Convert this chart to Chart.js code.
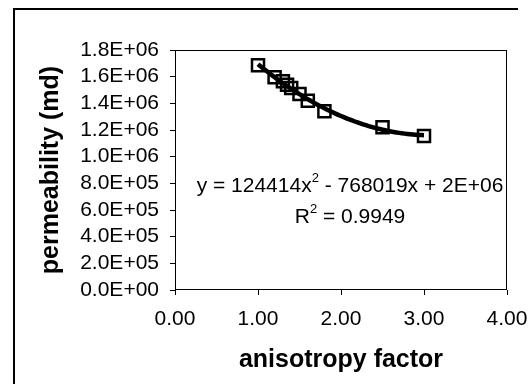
<!DOCTYPE html>
<html lang="en">
<head>
  <meta charset="UTF-8" />
  <title>Permeability vs anisotropy</title>
  <script src="https://cdn.jsdelivr.net/npm/chart.js"></script>
  <style>
    html, body { margin: 0; padding: 0; background: #fff; }
    #wrap { width: 531px; height: 384px; }
  </style>
</head>
<body>
  <div id="wrap"><canvas id="permChart" width="531" height="384"></canvas></div>

  <script>
    // measured points
    const anisotropy = [1.0, 1.2, 1.3, 1.35, 1.4, 1.5, 1.6, 1.8, 2.5, 3.0];
    const permeability = [1685000, 1595000, 1565000, 1540000, 1515000, 1470000, 1420000, 1340000, 1220000, 1155000];

    const xTicks = [0, 1, 2, 3, 4];
    const yTicks = [0, 200000, 400000, 600000, 800000, 1000000, 1200000, 1400000, 1600000, 1800000];

    const eqLine1 = ['y = 124414x', '2', ' - 768019x + 2E+06'];
    const eqLine2 = ['R', '2', ' = 0.9949'];

    // 2nd order least squares fit (Excel-style polynomial trendline)
    function polyFit2(xs, ys) {
      let s = [0, 0, 0, 0, 0], t = [0, 0, 0];
      xs.forEach((x, i) => {
        for (let k = 0; k < 5; k++) s[k] += Math.pow(x, k);
        for (let k = 0; k < 3; k++) t[k] += ys[i] * Math.pow(x, k);
      });
      const m = [[s[0], s[1], s[2], t[0]], [s[1], s[2], s[3], t[1]], [s[2], s[3], s[4], t[2]]];
      for (let i = 0; i < 3; i++) {
        for (let j = i + 1; j < 3; j++) {
          const f = m[j][i] / m[i][i];
          for (let k = i; k < 4; k++) m[j][k] -= f * m[i][k];
        }
      }
      const c = [0, 0, 0];
      for (let i = 2; i >= 0; i--) {
        let v = m[i][3];
        for (let k = i + 1; k < 3; k++) v -= m[i][k] * c[k];
        c[i] = v / m[i][i];
      }
      return c; // c0 + c1 x + c2 x^2
    }

    const coef = polyFit2(anisotropy, permeability);
    const xMin = Math.min(...anisotropy), xMax = Math.max(...anisotropy);
    const trend = [];
    for (let i = 0; i <= 60; i++) {
      const x = xMin + (xMax - xMin) * i / 60;
      trend.push({ x: x, y: coef[0] + coef[1] * x + coef[2] * x * x });
    }

    function sci(v) {
      const parts = v.toExponential(1).split('e');
      const n = parseInt(parts[1], 10);
      return parts[0] + 'E' + (n < 0 ? '-' : '+') + String(Math.abs(n)).padStart(2, '0');
    }

    function drawSup(ctx, parts, cx, cy, size) {
      const big = size + 'px "Liberation Sans", Arial, sans-serif';
      const small = Math.round(size * 0.62) + 'px "Liberation Sans", Arial, sans-serif';
      ctx.font = big;
      const w0 = ctx.measureText(parts[0]).width;
      const w2 = ctx.measureText(parts[2]).width;
      ctx.font = small;
      const w1 = ctx.measureText(parts[1]).width;
      let x = cx - (w0 + w1 + w2) / 2;
      ctx.textAlign = 'left';
      ctx.textBaseline = 'middle';
      ctx.font = big;
      ctx.fillText(parts[0], x, cy);
      x += w0;
      ctx.font = small;
      ctx.fillText(parts[1], x, cy - size * 0.38);
      x += w1;
      ctx.font = big;
      ctx.fillText(parts[2], x, cy);
    }

    const framePlugin = {
      id: 'frame',
      beforeDraw(chart) {
        const ctx = chart.ctx;
        ctx.save();
        ctx.fillStyle = '#fff';
        ctx.fillRect(0, 0, chart.width, chart.height);
        // outer chart border (top + left visible)
        ctx.strokeStyle = '#000';
        ctx.lineWidth = 2;
        ctx.beginPath();
        ctx.moveTo(14, chart.height);
        ctx.lineTo(14, 9);
        ctx.lineTo(518, 9);
        ctx.stroke();
        ctx.restore();
      },
      afterDraw(chart) {
        const ctx = chart.ctx;
        const a = chart.chartArea;
        ctx.save();
        ctx.strokeStyle = '#000';
        ctx.lineWidth = 1;
        ctx.strokeRect(Math.round(a.left) + 0.5, Math.round(a.top) + 0.5,
          Math.round(a.right - a.left) - 1, Math.round(a.bottom - a.top) - 1);
        ctx.fillStyle = '#000';
        drawSup(ctx, eqLine1, 350, 186, 21);
        drawSup(ctx, eqLine2, 350, 217, 21);
        ctx.restore();
      }
    };

    const ctx = document.getElementById('permChart').getContext('2d');
    new Chart(ctx, {
      type: 'scatter',
      data: {
        datasets: [
          {
            label: 'trend',
            type: 'line',
            data: trend,
            borderColor: '#000',
            borderWidth: 4.5,
            pointRadius: 0,
            fill: false,
            order: 0
          },
          {
            label: 'permeability',
            data: anisotropy.map((x, i) => ({ x: x, y: permeability[i] })),
            pointStyle: 'rect',
            pointRadius: 8.5,
            pointHoverRadius: 8.5,
            borderColor: '#000',
            borderWidth: 2.5,
            backgroundColor: 'rgba(0,0,0,0)',
            order: 1
          }
        ]
      },
      options: {
        responsive: false,
        animation: false,
        events: [],
        layout: { padding: { left: 0, top: 50, right: 24, bottom: 0 } },
        plugins: {
          legend: { display: false },
          tooltip: { enabled: false }
        },
        scales: {
          x: {
            type: 'linear',
            min: xTicks[0],
            max: xTicks[xTicks.length - 1],
            afterFit: s => { s.height = 94; s.paddingRight = 0; s.paddingLeft = 0; },
            afterBuildTicks: s => { s.ticks = xTicks.map(v => ({ value: v })); },
            border: { display: false },
            grid: { drawOnChartArea: false, drawTicks: true, tickLength: 5, color: '#000' },
            ticks: {
              color: '#000',
              padding: 12,
              maxRotation: 0,
              autoSkip: false,
              font: { family: '"Liberation Sans", Arial, sans-serif', size: 21 },
              callback: v => Number(v).toFixed(2)
            },
            title: {
              display: true,
              text: 'anisotropy factor',
              color: '#000',
              padding: { top: 0, bottom: 9 },
              font: { family: '"Liberation Sans", Arial, sans-serif', size: 25, weight: 'bold' }
            }
          },
          y: {
            min: yTicks[0],
            max: yTicks[yTicks.length - 1],
            afterFit: s => { s.width = 175; s.paddingTop = 0; s.paddingBottom = 0; },
            afterBuildTicks: s => { s.ticks = yTicks.map(v => ({ value: v })); },
            border: { display: false },
            grid: { drawOnChartArea: false, drawTicks: true, tickLength: 5, color: '#000' },
            ticks: {
              color: '#000',
              padding: 11,
              autoSkip: false,
              font: { family: '"Liberation Sans", Arial, sans-serif', size: 21 },
              callback: v => sci(v)
            },
            title: {
              display: true,
              text: 'permeability (md)',
              color: '#000',
              padding: { top: 36, bottom: 0 },
              font: { family: '"Liberation Sans", Arial, sans-serif', size: 25, weight: 'bold' }
            }
          }
        }
      },
      plugins: [framePlugin]
    });
  </script>
</body>
</html>
